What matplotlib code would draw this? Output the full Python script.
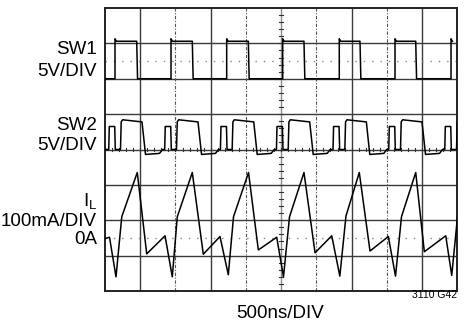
import matplotlib
matplotlib.use("Agg")
import matplotlib.pyplot as plt

plt.rcParams['font.family'] = ['Liberation Sans Narrow', 'Liberation Sans', 'DejaVu Sans']

# scope screen: 10 x 8 divisions, 500ns/DIV
# SW1 trace (5V/DIV, ground at 6 div)
sw1_rise_ns = [142, 937, 1727, 2522, 3325, 4116, 4911]
sw1_fall_ns = [450, 1239, 2034, 2824, 3619, 4410]
sw1_high_v = 5.3
sw1_spike_v = 5.65
sw1_low_v = 0.0

# SW2 trace (5V/DIV, ground at 4 div)
sw2_blip_rise_ns = [53, 847, 1638, 2433, 3236, 4027, 4822]
sw2_blip_fall_ns = [146, 941, 1732, 2526, 3330, 4120, 4915]
sw2_on_rise_ns = [220, 1015, 1805, 2600, 3404, 4194, 4989]
sw2_on_end_ns = [525, 1320, 2111, 2905, 3709, 4499]
sw2_off_ns = [575, 1370, 2160, 2955, 3758, 4549]
sw2_dip_end_ns = [774, 1568, 2359, 3154, 3957, 4748]
sw2_back_ns = [816, 1611, 2401, 3196, 3999, 4790]
sw2_blip_v = 3.25
sw2_on_start_v = 4.2
sw2_on_end_v = 3.9
sw2_dip_v = -0.7
sw2_dip_end_v = -0.55

# inductor current (100mA/DIV, 0A at 1.5 div)
il_start = (0, -2)
il_turn_ns = [64, 852, 1632, 2437, 3218, 4021, 4836]
il_turn_ma = [2, 6, 4, 2, 6, 4, 6]
il_min_ns = [156, 955, 1750, 2533, 3333, 4123, 4921]
il_min_ma = [-110, -110, -104, -110, -108, -108, -106]
il_knee_ns = [238, 1026, 1824, 2619, 3420, 4208, 5003]
il_knee_ma = [60, 60, 60, 60, 62, 60, 60]
il_peak_ns = [458, 1239, 2037, 2824, 3609, 4410]
il_peak_ma = [185, 185, 185, 185, 185, 185]
il_valley_ns = [592, 1395, 2176, 2981, 3761, 4532]
il_valley_ma = [-45, -46, -34, -42, -37, -39]


def to_div(vals, offset, per_div):
    return [offset + v / per_div for v in vals]


# build SW1 points
sw1_t = [0]
sw1_v = [sw1_low_v]
for i, r in enumerate(sw1_rise_ns):
    sw1_t += [r, r, r + 20]
    sw1_v += [sw1_low_v, sw1_spike_v, sw1_high_v]
    if i < len(sw1_fall_ns):
        f = sw1_fall_ns[i]
        sw1_t += [f, f + 12]
        sw1_v += [sw1_high_v, sw1_low_v]

# build SW2 points
sw2_t = [0]
sw2_v = [0.0]
for i in range(len(sw2_blip_rise_ns)):
    sw2_t += [sw2_blip_rise_ns[i], sw2_blip_rise_ns[i] + 8,
              sw2_blip_fall_ns[i] - 8, sw2_blip_fall_ns[i],
              sw2_on_rise_ns[i], sw2_on_rise_ns[i] + 10, sw2_on_rise_ns[i] + 30]
    sw2_v += [0.0, sw2_blip_v, sw2_blip_v, 0.0, 0.0, 3.9, sw2_on_start_v]
    if i < len(sw2_on_end_ns):
        sw2_t += [sw2_on_end_ns[i], sw2_off_ns[i], sw2_dip_end_ns[i], sw2_back_ns[i]]
        sw2_v += [sw2_on_end_v, sw2_dip_v, sw2_dip_end_v, 0.0]

# build IL points
il_t = [il_start[0]]
il_v = [il_start[1]]
for i in range(len(il_turn_ns)):
    il_t += [il_turn_ns[i], il_min_ns[i], il_knee_ns[i]]
    il_v += [il_turn_ma[i], il_min_ma[i], il_knee_ma[i]]
    if i < len(il_peak_ns):
        il_t += [il_peak_ns[i], il_valley_ns[i]]
        il_v += [il_peak_ma[i], il_valley_ma[i]]

fig = plt.figure(figsize=(4.71, 3.23), dpi=100)
ax = fig.add_axes([105 / 471, 1 - 291 / 323, 352.3 / 471, 283 / 323])
ax.set_xlim(0, 5000)
ax.set_ylim(0, 8)

# graticule
for y in range(1, 8):
    ax.axhline(y, color='#3a3a3a', lw=1.0, zorder=1)
for x in range(1, 10):
    if x == 5:
        ax.axvline(x * 500, color='#8a8a8a', lw=1.0, zorder=1)
    elif x % 2 == 0:
        ax.axvline(x * 500, color='#555555', lw=0.8, ls=(0, (3, 1.5, 1, 1.5)), zorder=1)
    else:
        ax.axvline(x * 500, color='#3a3a3a', lw=1.0, zorder=1)
# minor ticks on center lines
for k in range(1, 50):
    ax.plot([k * 100, k * 100], [3.95, 4.05], color='#333333', lw=0.8, zorder=1)
for k in range(1, 40):
    ax.plot([2470, 2530], [k * 0.2, k * 0.2], color='#333333', lw=0.8, zorder=1)
# dotted reference levels
ax.axhline(6.5, color='#888888', lw=1.0, ls=(0, (1, 5)), zorder=1)
ax.axhline(1.5, color='#888888', lw=1.0, ls=(0, (1, 5)), zorder=1)

ax.plot(sw1_t, to_div(sw1_v, 6, 5), color='black', lw=1.1, zorder=3)
ax.plot(sw2_t, to_div(sw2_v, 4, 5), color='black', lw=1.1, zorder=3)
ax.plot(il_t, to_div(il_v, 1.5, 100), color='black', lw=1.1, zorder=3)

ax.set_xticks([])
ax.set_yticks([])
for s in ax.spines.values():
    s.set_linewidth(1.4)
    s.set_color('#222222')

fs = 13.5
xr = 97 / 471
fig.text(xr, 1 - 50 / 323, 'SW1', ha='right', va='center', fontsize=fs)
fig.text(xr, 1 - 71 / 323, '5V/DIV', ha='right', va='center', fontsize=fs)
fig.text(xr, 1 - 125 / 323, 'SW2', ha='right', va='center', fontsize=fs)
fig.text(xr, 1 - 145 / 323, '5V/DIV', ha='right', va='center', fontsize=fs)
fig.text(xr, 1 - 206 / 323, r'I$\mathregular{_L}$', ha='right', va='baseline', fontsize=fs)
fig.text(xr, 1 - 222 / 323, '100mA/DIV', ha='right', va='center', fontsize=fs)
fig.text(xr, 1 - 240 / 323, '0A', ha='right', va='center', fontsize=fs)
fig.text(280 / 471, 1 - 314 / 323, '500ns/DIV', ha='center', va='center', fontsize=fs)
fig.text(457 / 471, 1 - 295 / 323, '3110 G42', ha='right', va='center', fontsize=7.5)

fig.savefig('out.png', dpi=100)
